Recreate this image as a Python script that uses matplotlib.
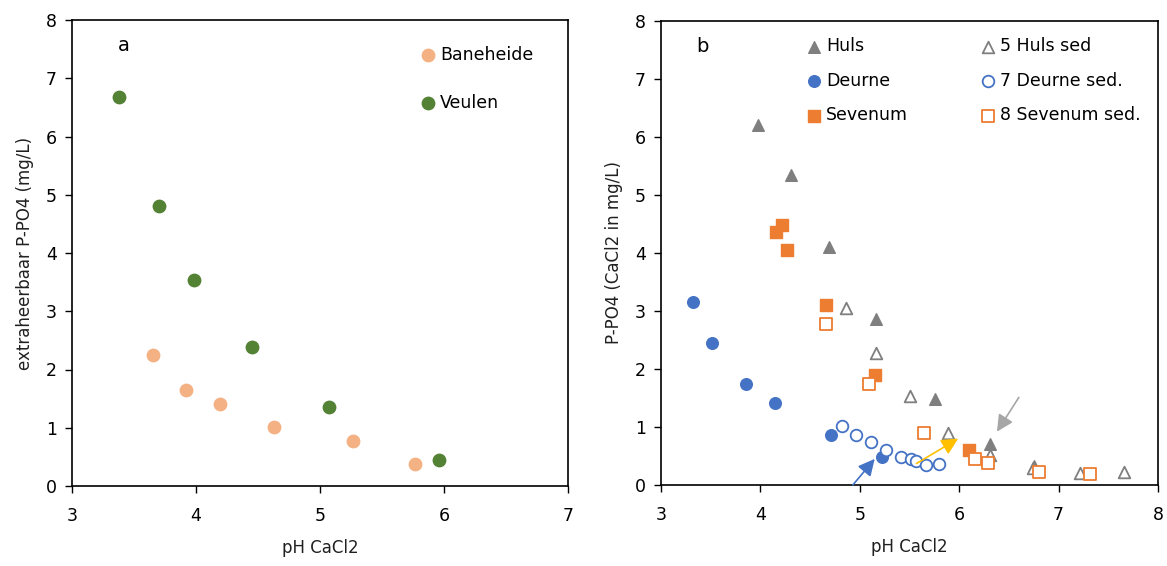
import matplotlib
matplotlib.use("Agg")
import matplotlib.pyplot as plt

# ---- Panel a data ----
baneheide_ph = [3.65, 3.92, 4.19, 4.63, 5.27, 5.77]
baneheide_p = [2.25, 1.64, 1.41, 1.02, 0.77, 0.38]
veulen_ph = [3.38, 3.70, 3.98, 4.45, 5.07, 5.96]
veulen_p = [6.67, 4.80, 3.54, 2.38, 1.35, 0.44]

# ---- Panel b data ----
huls_ph = [3.98, 4.31, 4.69, 5.16, 5.76, 6.31, 6.75]
huls_p = [6.21, 5.34, 4.11, 2.86, 1.48, 0.71, 0.32]
hulssed_ph = [4.86, 5.16, 5.50, 5.89, 6.31, 6.74, 7.22, 7.66]
hulssed_p = [3.05, 2.28, 1.53, 0.89, 0.51, 0.30, 0.21, 0.22]
deurne_ph = [3.32, 3.51, 3.86, 4.15, 4.71, 5.22]
deurne_p = [3.16, 2.45, 1.74, 1.41, 0.87, 0.49]
deurnesed_ph = [4.82, 4.96, 5.11, 5.26, 5.41, 5.52, 5.57, 5.67, 5.80]
deurnesed_p = [1.02, 0.86, 0.74, 0.61, 0.49, 0.45, 0.41, 0.34, 0.36]
sevenum_ph = [4.22, 4.16, 4.27, 4.66, 5.15, 6.10]
sevenum_p = [4.48, 4.36, 4.06, 3.10, 1.90, 0.60]
sevenumsed_ph = [4.66, 5.09, 5.65, 6.16, 6.29, 6.80, 7.32]
sevenumsed_p = [2.77, 1.74, 0.90, 0.45, 0.38, 0.22, 0.19]

# arrows: (start_x, start_y, end_x, end_y)
arrow_gray = (6.60, 1.51, 6.38, 0.92)
arrow_yellow = (5.57, 0.37, 5.99, 0.80)
arrow_blue = (4.93, 0.00, 5.15, 0.45)

GREEN = "#548235"
PEACH = "#F4B183"
GRAY = "#7F7F7F"
BLUE = "#4472C4"
ORANGE = "#ED7D31"
YELLOW = "#FFC000"

plt.rcParams['font.family'] = ['DejaVu Sans']
fig = plt.figure(figsize=(11.67, 5.66), dpi=100)
W, H = 1167, 566
axa = fig.add_axes([72 / W, 1 - 486 / H, (568 - 72) / W, (486 - 20) / H])
axb = fig.add_axes([661 / W, 1 - 485 / H, (1158 - 661) / W, (485 - 21) / H])

ms = 80
axa.scatter(baneheide_ph, baneheide_p, s=ms, color=PEACH, label="Baneheide", zorder=3)
axa.scatter(veulen_ph, veulen_p, s=ms, color=GREEN, label="Veulen", zorder=3)
axa.set_xlim(3, 7)
axa.set_ylim(0, 8)
axa.set_xticks([3, 4, 5, 6, 7])
axa.set_xlabel("pH CaCl2", fontsize=12, color="#202020", labelpad=10)
axa.set_ylabel("extraheerbaar P-PO4 (mg/L)", fontsize=12, color="#202020", labelpad=8)
axa.text(3.42, 7.56, "a", fontsize=14, ha="center", va="center")
axa.legend(loc="upper left", bbox_to_anchor=(0.683, 0.96), frameon=False,
           fontsize=12.5, handletextpad=0.1, labelspacing=1.75, borderaxespad=0,
           handlelength=1.2)

mk = 70
axb.scatter(huls_ph, huls_p, s=mk, marker="^", color=GRAY, label="Huls", zorder=3)
axb.scatter(deurne_ph, deurne_p, s=mk, marker="o", color=BLUE, label="Deurne", zorder=3)
axb.scatter(sevenum_ph, sevenum_p, s=mk, marker="s", color=ORANGE, label="Sevenum", zorder=3)
axb.scatter(hulssed_ph, hulssed_p, s=mk, marker="^", facecolor="white", edgecolor=GRAY,
            linewidth=1.3, label="5 Huls sed", zorder=3)
axb.scatter(deurnesed_ph, deurnesed_p, s=mk, marker="o", facecolor="white", edgecolor=BLUE,
            linewidth=1.3, label="7 Deurne sed.", zorder=3)
axb.scatter(sevenumsed_ph, sevenumsed_p, s=mk, marker="s", facecolor="white", edgecolor=ORANGE,
            linewidth=1.3, label="8 Sevenum sed.", zorder=3)

for (x0, y0, x1, y1), c in [(arrow_gray, "#A6A6A6"), (arrow_yellow, YELLOW), (arrow_blue, BLUE)]:
    axb.annotate("", xy=(x1, y1), xytext=(x0, y0),
                 arrowprops=dict(arrowstyle="-|>,head_length=1.0,head_width=0.5",
                                 color=c, lw=1.2, shrinkA=0, shrinkB=0), zorder=4)

axb.set_xlim(3, 8)
axb.set_ylim(0, 8)
axb.set_xticks([3, 4, 5, 6, 7, 8])
axb.set_xlabel("pH CaCl2", fontsize=12, color="#202020", labelpad=10)
axb.set_ylabel("P-PO4 (CaCl2 in mg/L)", fontsize=12, color="#202020", labelpad=8)
axb.text(3.42, 7.56, "b", fontsize=14, ha="center", va="center")
axb.legend(loc="upper left", bbox_to_anchor=(0.273, 0.98), frameon=False, ncol=2,
           fontsize=12.5, handletextpad=0.1, labelspacing=0.95, borderaxespad=0,
           handlelength=1.2, columnspacing=4.0)

for ax in (axa, axb):
    ax.set_yticks(range(0, 9))
    ax.tick_params(direction="out", length=5, width=1, labelsize=12.5, colors="black", pad=6)
    for sp in ax.spines.values():
        sp.set_linewidth(1.2)
    ax.tick_params(axis="x", pad=10)

fig.savefig("out.png", dpi=100)
